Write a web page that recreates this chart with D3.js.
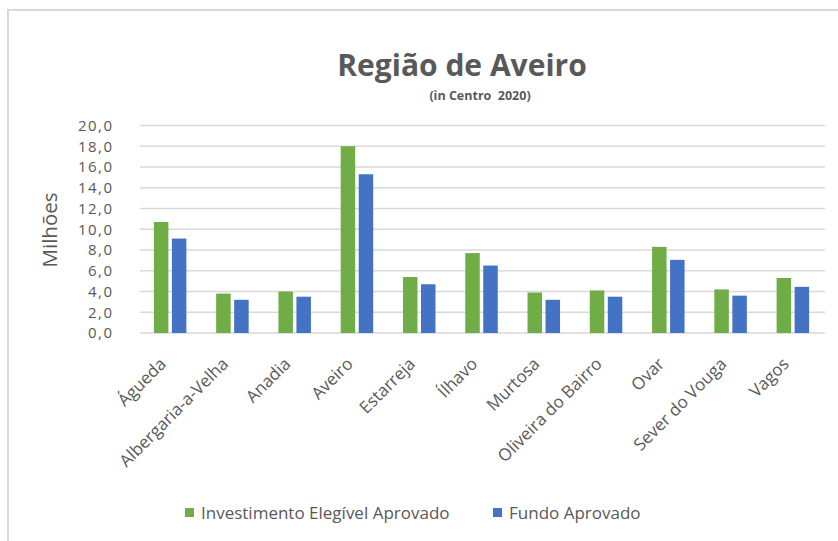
<!DOCTYPE html>
<html>
<head>
<meta charset="utf-8">
<script src="https://cdn.jsdelivr.net/npm/d3@7"></script>
<style>
  body { margin: 0; background: #fff; }
  text { font-family: "Open Sans", "Noto Sans", sans-serif; fill: #595959; }
</style>
</head>
<body>
<script>
// categories and series (values in millions)
var municipios = ["Águeda", "Albergaria-a-Velha", "Anadia", "Aveiro", "Estarreja", "Ílhavo",
                  "Murtosa", "Oliveira do Bairro", "Ovar", "Sever do Vouga", "Vagos"];
var investimento = [10.7, 3.8, 4.0, 18.0, 5.4, 7.7, 3.9, 4.1, 8.3, 4.2, 5.3];
var fundo = [9.1, 3.2, 3.5, 15.3, 4.7, 6.5, 3.2, 3.5, 7.05, 3.6, 4.45];
var seriesNames = ["Investimento Elegível Aprovado", "Fundo Aprovado"];
var colors = ["#70ad47", "#4472c4"];
var yTicks = [0, 2, 4, 6, 8, 10, 12, 14, 16, 18, 20];

var W = 838, H = 541;
var margin = {top: 125.5, right: 13, bottom: 208, left: 140},
    width = W - margin.left - margin.right,
    height = H - margin.top - margin.bottom;

var svg = d3.select("body").append("svg")
    .attr("width", W)
    .attr("height", H);

// outer chart border
svg.append("rect")
    .attr("x", 8).attr("y", 10)
    .attr("width", W).attr("height", H)
    .attr("fill", "none")
    .attr("stroke", "#d9d9d9")
    .attr("stroke-width", 2);

var g = svg.append("g")
    .attr("transform", "translate(" + margin.left + "," + margin.top + ")");

var x = d3.scaleBand().domain(municipios).range([0, width]);
var y = d3.scaleLinear().domain([0, 20]).range([height, 0]);

// gridlines
g.selectAll(".grid")
    .data(yTicks)
  .enter().append("line")
    .attr("x1", 0).attr("x2", width)
    .attr("y1", function(d) { return y(d); })
    .attr("y2", function(d) { return y(d); })
    .attr("stroke", "#d9d9d9")
    .attr("stroke-width", 1.5);

// y axis labels (font kept small enough that the boxes don't collide)
var yAxis = g.append("g")
    .call(d3.axisLeft(y).tickValues(yTicks).tickSize(0).tickPadding(26.5)
      .tickFormat(function(d) { return d.toFixed(1).replace(".", ","); }));
yAxis.select(".domain").remove();
yAxis.selectAll("text")
    .style("font-size", "15px")
    .style("letter-spacing", "1.5px")
    .attr("fill", "#595959");

// bars
var barW = 14.5, gap = 3.5;
var data = [investimento, fundo];
data.forEach(function(vals, s) {
  g.selectAll(".bar" + s)
      .data(vals)
    .enter().append("rect")
      .attr("x", function(d, i) {
        var c = x(municipios[i]) + x.bandwidth() / 2 - 1;
        return s === 0 ? c - gap / 2 - barW : c + gap / 2;
      })
      .attr("width", barW)
      .attr("y", function(d) { return y(d); })
      .attr("height", function(d) { return height - y(d); })
      .attr("fill", colors[s]);
});

// x labels, rotated
var xAxis = g.append("g")
    .attr("transform", "translate(0," + height + ")")
    .call(d3.axisBottom(x).tickSize(0).tickPadding(0));
xAxis.select(".domain").remove();
xAxis.selectAll("text")
    .style("font-size", "17px")
    .attr("fill", "#595959")
    .attr("text-anchor", "end")
    .attr("dy", 0)
    .attr("transform", "translate(-4,32) rotate(-45)");

// title
svg.append("text")
    .attr("x", 462).attr("y", 76)
    .attr("text-anchor", "middle")
    .style("font-size", "30px")
    .style("font-weight", "bold")
    .text("Região de Aveiro");

svg.append("text")
    .attr("x", 480).attr("y", 100)
    .attr("text-anchor", "middle")
    .style("font-size", "12.5px")
    .style("font-weight", "bold")
    .style("white-space", "pre")
    .text("(in Centro  2020)");

// y axis title
svg.append("text")
    .attr("transform", "translate(57,230) rotate(-90)")
    .attr("text-anchor", "middle")
    .style("font-size", "20.5px")
    .text("Milhões");

// legend
var legendX = [185, 493];
seriesNames.forEach(function(name, i) {
  svg.append("rect")
      .attr("x", legendX[i]).attr("y", 508)
      .attr("width", 9).attr("height", 9)
      .attr("fill", colors[i]);
  svg.append("text")
      .attr("x", legendX[i] + 16).attr("y", 519)
      .style("font-size", "17px")
      .text(name);
});
</script>
</body>
</html>
